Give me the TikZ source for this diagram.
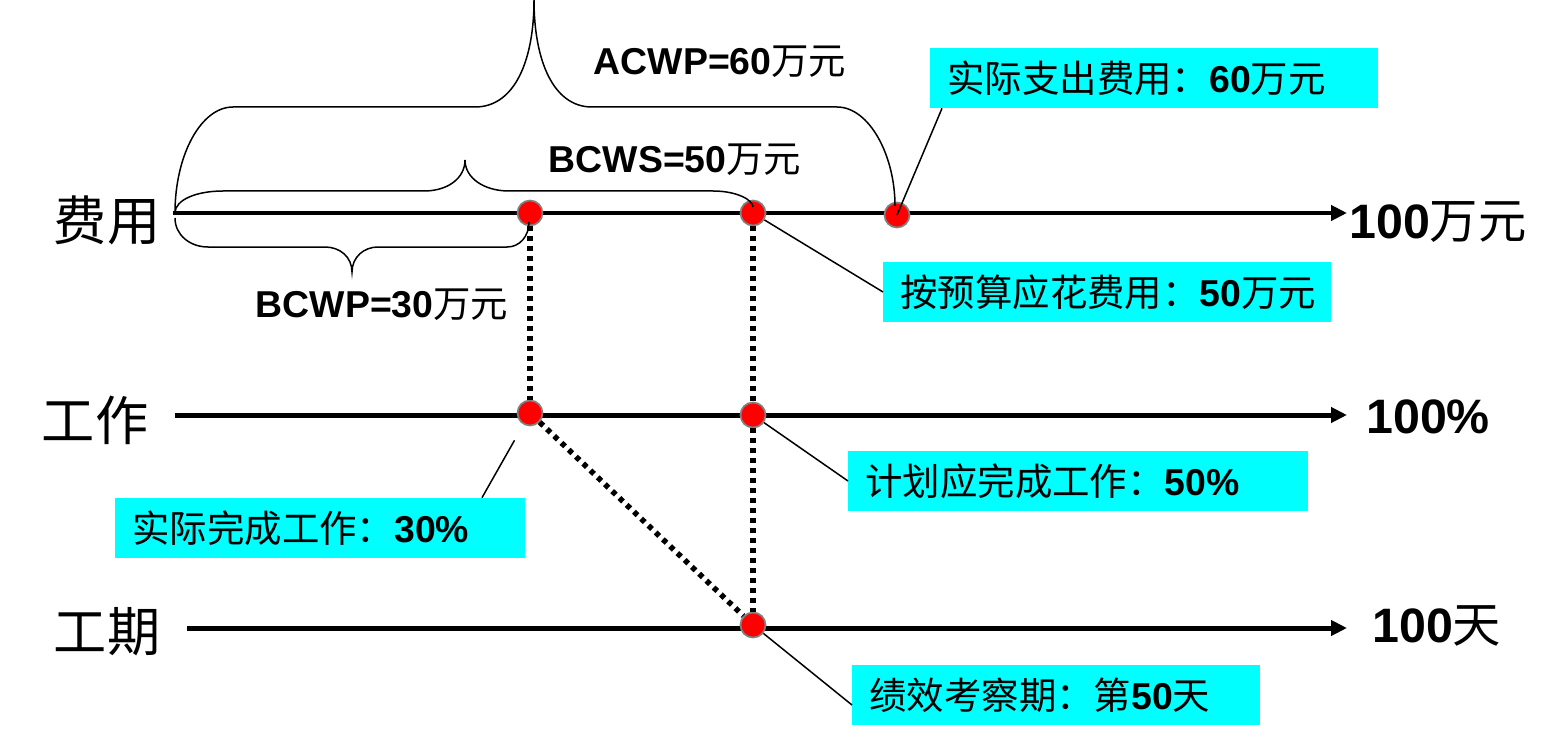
\documentclass[tikz,border=0pt]{standalone}
\usepackage{fontspec}
\setmainfont{Liberation Sans}
\newfontfamily\cjk{Noto Sans CJK SC}
\usepackage{tikz}
\usetikzlibrary{arrows.meta, positioning, calc}
\definecolor{aqua}{RGB}{0,255,255}
\newcommand{\zh}[1]{{\cjk #1}}

\begin{document}
\begin{tikzpicture}[x=0.02cm, y=-0.02cm,
   axis/.style={line width=0.1cm, -{Triangle[length=0.32cm, width=0.3cm]}},
   dot/.style={circle, fill=red, draw=gray, line width=0.035cm, minimum size=0.5cm, inner sep=0pt},
   proj/.style={line width=0.11cm, dash pattern=on 0.1cm off 0.1cm},
   bracepath/.style={line width=0.03cm},
   callout/.style={fill=aqua, anchor=west, minimum height=1.2cm, inner ysep=0pt, inner xsep=0.34cm,
     align=left, font=\fontsize{21.3}{26}\selectfont},
   pointer/.style={line width=0.03cm},
   amount/.style={font=\fontsize{21.3}{26}\selectfont, inner sep=0pt},
   axislabel/.style={font=\fontsize{30.3}{36}\selectfont\cjk, inner sep=0pt},
   endlabel/.style={font=\fontsize{27.5}{33}\selectfont, anchor=west, inner sep=0pt}]
  \useasboundingbox (0,0) rectangle (1564,743);

  % axes
  \coordinate (costL) at (173,213);  \coordinate (costR) at (1347,213);
  \coordinate (workL) at (175,415);  \coordinate (workR) at (1347,415);
  \coordinate (dayL)  at (187,628);  \coordinate (dayR)  at (1347,628);
  \draw[axis] (costL) -- (costR);
  \draw[axis] (workL) -- (workR);
  \draw[axis] (dayL) -- (dayR);

  \node[axislabel] (costname) at (107,220) {费用};
  \node[axislabel] (workname) at (95,420) {工作};
  \node[axislabel] (dayname)  at (107,632) {工期};
  \node[endlabel] (costend) at (1349,222) {\textbf{100}\zh{万元}};
  \node[endlabel] (workend) at (1366,417) {\textbf{100\%}};
  \node[endlabel] (dayend)  at (1372,626) {\textbf{100}\zh{天}};

  % points
  \node[dot] (cost30) at (530,213) {};
  \node[dot] (cost50) at (753,213) {};
  \node[dot] (cost60) at (897,215) {};
  \node[dot] (work30) at (530,413) {};
  \node[dot] (work50) at (753,415) {};
  \node[dot] (day50)  at (753,625) {};

  \draw[proj] (cost30) -- (work30);
  \draw[proj] (cost50) -- (work50);
  \draw[proj] (work50) -- (day50);
  \draw[proj] (work30) -- (day50);

  % braces
  \draw[bracepath] (175,213) .. controls (175,155) and (201,107) .. (233,107) -- (475,107)
    .. controls (515,107) and (534,60) .. (534,0)
    .. controls (534,60) and (553,107) .. (592,107) -- (837,107)
    .. controls (869,107) and (895,155) .. (895,206);
  \draw[bracepath] (175,213) .. controls (175,200) and (196,191) .. (223,191) -- (424,191)
    .. controls (448,191) and (465,178) .. (465,160)
    .. controls (465,178) and (484,191) .. (509,191) -- (713,191)
    .. controls (737,191) and (753,200) .. (753,207);
  \draw[bracepath] (175,218) .. controls (175,235) and (190,247) .. (208,247) -- (325,247)
    .. controls (340,247) and (352,257) .. (352,272)
    .. controls (352,257) and (364,247) .. (378,247) -- (507,247)
    .. controls (520,247) and (529,236) .. (529,222);

  \node[amount] (acwp) at (720,62)  {\textbf{ACWP=60}\zh{万元}};
  \node[amount] (bcws) at (675,160) {\textbf{BCWS=50}\zh{万元}};
  \node[amount] (bcwp) at (382,305) {\textbf{BCWP=30}\zh{万元}};

  % callouts
  \node[callout, text width=8.28cm] (cb1) at (930,78)  {\zh{实际支出费用：}\textbf{60}\zh{万元}};
  \node[callout, text width=8.28cm] (cb2) at (883,292) {\zh{按预算应花费用：}\textbf{50}\zh{万元}};
  \node[callout, text width=8.52cm] (cb3) at (848,481) {\zh{计划应完成工作：}\textbf{50\%}};
  \node[callout, text width=7.52cm] (cb4) at (115,528) {\zh{实际完成工作：}\textbf{30\%}};
  \node[callout, text width=7.48cm] (cb5) at (852,695) {\zh{绩效考察期：第}\textbf{50}\zh{天}};

  \coordinate (p1) at (942,0);
  \coordinate (p4) at (482,0);
  \draw[pointer] (cb1.south -| p1) -- (cost60.center);
  \draw[pointer] (cost50) -- (cb2.west);
  \draw[pointer] (work50) -- (cb3.west);
  \draw[pointer, shorten >=0.36cm] (cb4.north -| p4) -- (work30);
  \draw[pointer] (day50) -- ([yshift=-0.2cm]cb5.west);
\end{tikzpicture}
\end{document}
